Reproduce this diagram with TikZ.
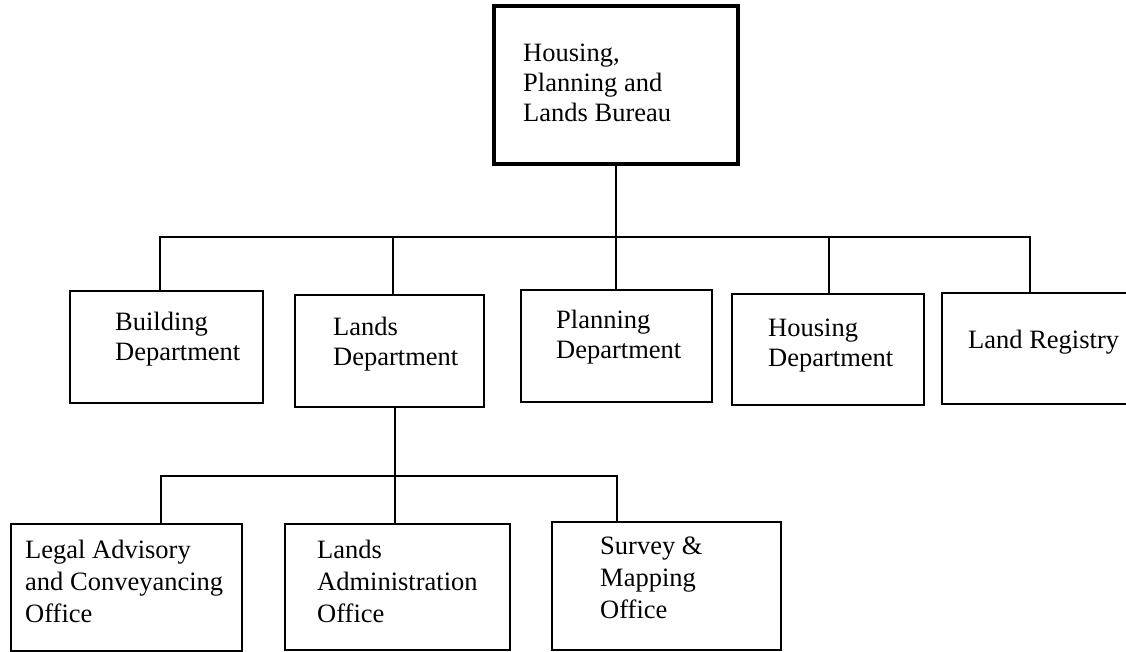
\documentclass[tikz,border=0pt]{standalone}
\usepackage{fontspec}
\setmainfont{Liberation Serif}
\begin{document}
\begin{tikzpicture}[x=1pt,y=-1pt,
  orgbox/.style={draw=black,line width=1.8pt,inner sep=0pt},
  headbox/.style={draw=black,line width=3.2pt,inner sep=0pt},
  lbl/.style={inner sep=0pt,anchor=base west,align=left,
    font=\fontsize{26.5}{30}\selectfont},
  lbllow/.style={lbl,font=\fontsize{26.5}{32}\selectfont},
  conn/.style={line width=2.8pt,line cap=rect}]
\useasboundingbox (0,0) rectangle (1126,652);
\clip (0,0) rectangle (1126,652);
% boxes, given by their corners
\newcommand{\orgrect}[6]{%
  \node[#1,minimum width={#5-#3},minimum height={#6-#4}] (#2) at ({(#3+#5)/2},{(#4+#6)/2}) {};}
\orgrect{headbox}{hplb}{494}{6}{738}{164}
\orgrect{orgbox}{bd}{70}{291}{263}{403}
\orgrect{orgbox}{ld}{295}{295}{484}{407}
\orgrect{orgbox}{pd}{521}{290}{712}{402}
\orgrect{orgbox}{hd}{732}{294}{924}{405}
\orgrect{orgbox}{lr}{942}{293}{1132}{404}
\orgrect{orgbox}{lac}{11}{524}{242}{651}
\orgrect{orgbox}{lao}{285}{524}{510}{650}
\orgrect{orgbox}{smo}{552}{522}{781}{650}
% texts (anchored at the baseline of their last line)
\node[lbl] (hplbt) at (523,122) {Housing,\\Planning and\\Lands Bureau};
\node[lbl] (bdt) at (115,360) {Building\\Department};
\node[lbl] (ldt) at (333,365) {Lands\\Department};
\node[lbl] (pdt) at (556,358) {Planning\\Department};
\node[lbl] (hdt) at (768,366) {Housing\\Department};
\node[lbl] (lrt) at (968,348) {Land Registry};
\node[lbllow] (lact) at (25,622) {Legal Advisory\\and Conveyancing\\Office};
\node[lbllow] (laot) at (317,622) {Lands\\Administration\\Office};
\node[lbllow] (smot) at (600,618) {Survey \&\\Mapping\\Office};
% connector bus lines
\coordinate (busL) at (160,237);
\coordinate (busR) at (1030,237);
\coordinate (busH) at (616,237);
\coordinate (busB) at (393,237);
\coordinate (busP) at (616,237);
\coordinate (busD) at (829,237);
\coordinate (subL) at (161,476);
\coordinate (subM) at (395,476);
\coordinate (subR) at (617,476);
\draw[conn] (hplb.south) -- (busH);
\draw[conn] (busL) -- (busR);
\draw[conn] (busL) -- (busL |- bd.north);
\draw[conn] (busB) -- (busB |- ld.north);
\draw[conn] (busP) -- (busP |- pd.north);
\draw[conn] (busD) -- (busD |- hd.north);
\draw[conn] (busR) -- (busR |- lr.north);
\draw[conn] (subM |- ld.south) -- (subM);
\draw[conn] (subL) -- (subR);
\draw[conn] (subL) -- (subL |- lac.north);
\draw[conn] (subM) -- (subM |- lao.north);
\draw[conn] (subR) -- (subR |- smo.north);
\end{tikzpicture}
\end{document}
